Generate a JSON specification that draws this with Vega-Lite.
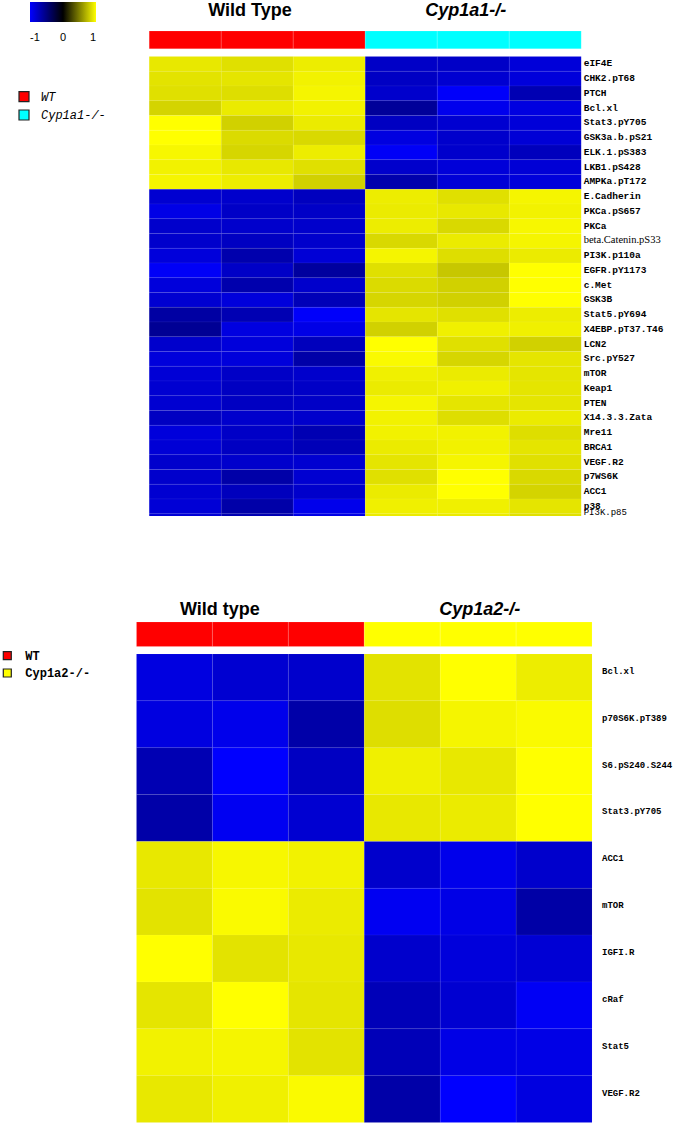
{
  "$schema": "https://vega.github.io/schema/vega-lite/v6.json",
  "background": "white",
  "padding": 0,
  "spacing": 0,
  "bounds": "flush",
  "config": {"view": {"stroke": null}},
  "resolve": {"scale": {"color": "independent", "fill": "independent"}, "legend": {"color": "independent", "fill": "independent"}},
  "datasets": {
    "topHead": [
      {"c": 0, "grp": "WT", "title": "Wild Type"}, {"c": 1, "grp": "WT", "title": "Wild Type"}, {"c": 2, "grp": "WT", "title": "Wild Type"},
      {"c": 3, "grp": "Cyp1a1-/-", "title": "Cyp1a1-/-"}, {"c": 4, "grp": "Cyp1a1-/-", "title": "Cyp1a1-/-"}, {"c": 5, "grp": "Cyp1a1-/-", "title": "Cyp1a1-/-"}
    ],
    "botHead": [
      {"c": 0, "grp": "WT", "title": "Wild type"}, {"c": 1, "grp": "WT", "title": "Wild type"}, {"c": 2, "grp": "WT", "title": "Wild type"},
      {"c": 3, "grp": "Cyp1a2-/-", "title": "Cyp1a2-/-"}, {"c": 4, "grp": "Cyp1a2-/-", "title": "Cyp1a2-/-"}, {"c": 5, "grp": "Cyp1a2-/-", "title": "Cyp1a2-/-"}
    ],
    "topCells": [
      {"g":"eIF4E","r":0,"c":0,"v":0.91},{"g":"eIF4E","r":0,"c":1,"v":0.88},{"g":"eIF4E","r":0,"c":2,"v":0.93},{"g":"eIF4E","r":0,"c":3,"v":-0.78},{"g":"eIF4E","r":0,"c":4,"v":-0.78},{"g":"eIF4E","r":0,"c":5,"v":-0.85},
      {"g":"CHK2.pT68","r":1,"c":0,"v":0.89},{"g":"CHK2.pT68","r":1,"c":1,"v":0.9},{"g":"CHK2.pT68","r":1,"c":2,"v":0.95},{"g":"CHK2.pT68","r":1,"c":3,"v":-0.77},{"g":"CHK2.pT68","r":1,"c":4,"v":-0.82},{"g":"CHK2.pT68","r":1,"c":5,"v":-0.86},
      {"g":"PTCH","r":2,"c":0,"v":0.88},{"g":"PTCH","r":2,"c":1,"v":0.87},{"g":"PTCH","r":2,"c":2,"v":0.96},{"g":"PTCH","r":2,"c":3,"v":-0.8},{"g":"PTCH","r":2,"c":4,"v":-0.98},{"g":"PTCH","r":2,"c":5,"v":-0.7},
      {"g":"Bcl.xl","r":3,"c":0,"v":0.83},{"g":"Bcl.xl","r":3,"c":1,"v":0.92},{"g":"Bcl.xl","r":3,"c":2,"v":0.95},{"g":"Bcl.xl","r":3,"c":3,"v":-0.6},{"g":"Bcl.xl","r":3,"c":4,"v":-0.93},{"g":"Bcl.xl","r":3,"c":5,"v":-0.88},
      {"g":"Stat3.pY705","r":4,"c":0,"v":1.0},{"g":"Stat3.pY705","r":4,"c":1,"v":0.82},{"g":"Stat3.pY705","r":4,"c":2,"v":0.92},{"g":"Stat3.pY705","r":4,"c":3,"v":-0.76},{"g":"Stat3.pY705","r":4,"c":4,"v":-0.82},{"g":"Stat3.pY705","r":4,"c":5,"v":-0.85},
      {"g":"GSK3a.b.pS21","r":5,"c":0,"v":1.0},{"g":"GSK3a.b.pS21","r":5,"c":1,"v":0.86},{"g":"GSK3a.b.pS21","r":5,"c":2,"v":0.85},{"g":"GSK3a.b.pS21","r":5,"c":3,"v":-0.88},{"g":"GSK3a.b.pS21","r":5,"c":4,"v":-0.8},{"g":"GSK3a.b.pS21","r":5,"c":5,"v":-0.84},
      {"g":"ELK.1.pS383","r":6,"c":0,"v":0.97},{"g":"ELK.1.pS383","r":6,"c":1,"v":0.84},{"g":"ELK.1.pS383","r":6,"c":2,"v":0.93},{"g":"ELK.1.pS383","r":6,"c":3,"v":-0.97},{"g":"ELK.1.pS383","r":6,"c":4,"v":-0.8},{"g":"ELK.1.pS383","r":6,"c":5,"v":-0.74},
      {"g":"LKB1.pS428","r":7,"c":0,"v":0.95},{"g":"LKB1.pS428","r":7,"c":1,"v":0.91},{"g":"LKB1.pS428","r":7,"c":2,"v":0.88},{"g":"LKB1.pS428","r":7,"c":3,"v":-0.8},{"g":"LKB1.pS428","r":7,"c":4,"v":-0.85},{"g":"LKB1.pS428","r":7,"c":5,"v":-0.84},
      {"g":"AMPKa.pT172","r":8,"c":0,"v":0.96},{"g":"AMPKa.pT172","r":8,"c":1,"v":0.93},{"g":"AMPKa.pT172","r":8,"c":2,"v":0.82},{"g":"AMPKa.pT172","r":8,"c":3,"v":-0.68},{"g":"AMPKa.pT172","r":8,"c":4,"v":-0.84},{"g":"AMPKa.pT172","r":8,"c":5,"v":-0.86},
      {"g":"E.Cadherin","r":9,"c":0,"v":-0.82},{"g":"E.Cadherin","r":9,"c":1,"v":-0.8},{"g":"E.Cadherin","r":9,"c":2,"v":-0.75},{"g":"E.Cadherin","r":9,"c":3,"v":0.93},{"g":"E.Cadherin","r":9,"c":4,"v":0.88},{"g":"E.Cadherin","r":9,"c":5,"v":0.96},
      {"g":"PKCa.pS657","r":10,"c":0,"v":-0.9},{"g":"PKCa.pS657","r":10,"c":1,"v":-0.78},{"g":"PKCa.pS657","r":10,"c":2,"v":-0.78},{"g":"PKCa.pS657","r":10,"c":3,"v":0.92},{"g":"PKCa.pS657","r":10,"c":4,"v":0.91},{"g":"PKCa.pS657","r":10,"c":5,"v":0.95},
      {"g":"PKCa","r":11,"c":0,"v":-0.8},{"g":"PKCa","r":11,"c":1,"v":-0.8},{"g":"PKCa","r":11,"c":2,"v":-0.8},{"g":"PKCa","r":11,"c":3,"v":0.93},{"g":"PKCa","r":11,"c":4,"v":0.85},{"g":"PKCa","r":11,"c":5,"v":0.97},
      {"g":"beta.Catenin.pS33","r":12,"c":0,"v":-0.8},{"g":"beta.Catenin.pS33","r":12,"c":1,"v":-0.76},{"g":"beta.Catenin.pS33","r":12,"c":2,"v":-0.8},{"g":"beta.Catenin.pS33","r":12,"c":3,"v":0.85},{"g":"beta.Catenin.pS33","r":12,"c":4,"v":0.92},{"g":"beta.Catenin.pS33","r":12,"c":5,"v":0.96},
      {"g":"PI3K.p110a","r":13,"c":0,"v":-0.86},{"g":"PI3K.p110a","r":13,"c":1,"v":-0.68},{"g":"PI3K.p110a","r":13,"c":2,"v":-0.84},{"g":"PI3K.p110a","r":13,"c":3,"v":0.96},{"g":"PI3K.p110a","r":13,"c":4,"v":0.87},{"g":"PI3K.p110a","r":13,"c":5,"v":0.92},
      {"g":"EGFR.pY1173","r":14,"c":0,"v":-0.97},{"g":"EGFR.pY1173","r":14,"c":1,"v":-0.78},{"g":"EGFR.pY1173","r":14,"c":2,"v":-0.62},{"g":"EGFR.pY1173","r":14,"c":3,"v":0.88},{"g":"EGFR.pY1173","r":14,"c":4,"v":0.78},{"g":"EGFR.pY1173","r":14,"c":5,"v":1.0},
      {"g":"c.Met","r":15,"c":0,"v":-0.86},{"g":"c.Met","r":15,"c":1,"v":-0.68},{"g":"c.Met","r":15,"c":2,"v":-0.8},{"g":"c.Met","r":15,"c":3,"v":0.86},{"g":"c.Met","r":15,"c":4,"v":0.82},{"g":"c.Met","r":15,"c":5,"v":1.0},
      {"g":"GSK3B","r":16,"c":0,"v":-0.82},{"g":"GSK3B","r":16,"c":1,"v":-0.86},{"g":"GSK3B","r":16,"c":2,"v":-0.72},{"g":"GSK3B","r":16,"c":3,"v":0.84},{"g":"GSK3B","r":16,"c":4,"v":0.82},{"g":"GSK3B","r":16,"c":5,"v":1.0},
      {"g":"Stat5.pY694","r":17,"c":0,"v":-0.64},{"g":"Stat5.pY694","r":17,"c":1,"v":-0.7},{"g":"Stat5.pY694","r":17,"c":2,"v":-0.98},{"g":"Stat5.pY694","r":17,"c":3,"v":0.9},{"g":"Stat5.pY694","r":17,"c":4,"v":0.88},{"g":"Stat5.pY694","r":17,"c":5,"v":0.93},
      {"g":"X4EBP.pT37.T46","r":18,"c":0,"v":-0.58},{"g":"X4EBP.pT37.T46","r":18,"c":1,"v":-0.88},{"g":"X4EBP.pT37.T46","r":18,"c":2,"v":-0.9},{"g":"X4EBP.pT37.T46","r":18,"c":3,"v":0.82},{"g":"X4EBP.pT37.T46","r":18,"c":4,"v":0.94},{"g":"X4EBP.pT37.T46","r":18,"c":5,"v":0.94},
      {"g":"LCN2","r":19,"c":0,"v":-0.8},{"g":"LCN2","r":19,"c":1,"v":-0.86},{"g":"LCN2","r":19,"c":2,"v":-0.74},{"g":"LCN2","r":19,"c":3,"v":1.0},{"g":"LCN2","r":19,"c":4,"v":0.88},{"g":"LCN2","r":19,"c":5,"v":0.82},
      {"g":"Src.pY527","r":20,"c":0,"v":-0.86},{"g":"Src.pY527","r":20,"c":1,"v":-0.86},{"g":"Src.pY527","r":20,"c":2,"v":-0.66},{"g":"Src.pY527","r":20,"c":3,"v":0.98},{"g":"Src.pY527","r":20,"c":4,"v":0.84},{"g":"Src.pY527","r":20,"c":5,"v":0.9},
      {"g":"mTOR","r":21,"c":0,"v":-0.84},{"g":"mTOR","r":21,"c":1,"v":-0.78},{"g":"mTOR","r":21,"c":2,"v":-0.8},{"g":"mTOR","r":21,"c":3,"v":0.94},{"g":"mTOR","r":21,"c":4,"v":0.92},{"g":"mTOR","r":21,"c":5,"v":0.9},
      {"g":"Keap1","r":22,"c":0,"v":-0.82},{"g":"Keap1","r":22,"c":1,"v":-0.76},{"g":"Keap1","r":22,"c":2,"v":-0.78},{"g":"Keap1","r":22,"c":3,"v":0.92},{"g":"Keap1","r":22,"c":4,"v":0.94},{"g":"Keap1","r":22,"c":5,"v":0.9},
      {"g":"PTEN","r":23,"c":0,"v":-0.82},{"g":"PTEN","r":23,"c":1,"v":-0.76},{"g":"PTEN","r":23,"c":2,"v":-0.78},{"g":"PTEN","r":23,"c":3,"v":0.96},{"g":"PTEN","r":23,"c":4,"v":0.9},{"g":"PTEN","r":23,"c":5,"v":0.9},
      {"g":"X14.3.3.Zata","r":24,"c":0,"v":-0.76},{"g":"X14.3.3.Zata","r":24,"c":1,"v":-0.8},{"g":"X14.3.3.Zata","r":24,"c":2,"v":-0.8},{"g":"X14.3.3.Zata","r":24,"c":3,"v":0.95},{"g":"X14.3.3.Zata","r":24,"c":4,"v":0.87},{"g":"X14.3.3.Zata","r":24,"c":5,"v":0.92},
      {"g":"Mre11","r":25,"c":0,"v":-0.86},{"g":"Mre11","r":25,"c":1,"v":-0.78},{"g":"Mre11","r":25,"c":2,"v":-0.7},{"g":"Mre11","r":25,"c":3,"v":0.95},{"g":"Mre11","r":25,"c":4,"v":0.95},{"g":"Mre11","r":25,"c":5,"v":0.87},
      {"g":"BRCA1","r":26,"c":0,"v":-0.84},{"g":"BRCA1","r":26,"c":1,"v":-0.76},{"g":"BRCA1","r":26,"c":2,"v":-0.72},{"g":"BRCA1","r":26,"c":3,"v":0.92},{"g":"BRCA1","r":26,"c":4,"v":0.95},{"g":"BRCA1","r":26,"c":5,"v":0.9},
      {"g":"VEGF.R2","r":27,"c":0,"v":-0.8},{"g":"VEGF.R2","r":27,"c":1,"v":-0.8},{"g":"VEGF.R2","r":27,"c":2,"v":-0.82},{"g":"VEGF.R2","r":27,"c":3,"v":0.9},{"g":"VEGF.R2","r":27,"c":4,"v":0.96},{"g":"VEGF.R2","r":27,"c":5,"v":0.88},
      {"g":"p7WS6K","r":28,"c":0,"v":-0.8},{"g":"p7WS6K","r":28,"c":1,"v":-0.66},{"g":"p7WS6K","r":28,"c":2,"v":-0.82},{"g":"p7WS6K","r":28,"c":3,"v":0.88},{"g":"p7WS6K","r":28,"c":4,"v":1.0},{"g":"p7WS6K","r":28,"c":5,"v":0.85},
      {"g":"ACC1","r":29,"c":0,"v":-0.82},{"g":"ACC1","r":29,"c":1,"v":-0.74},{"g":"ACC1","r":29,"c":2,"v":-0.8},{"g":"ACC1","r":29,"c":3,"v":0.92},{"g":"ACC1","r":29,"c":4,"v":1.0},{"g":"ACC1","r":29,"c":5,"v":0.83},
      {"g":"p38","r":30,"c":0,"v":-0.84},{"g":"p38","r":30,"c":1,"v":-0.66},{"g":"p38","r":30,"c":2,"v":-0.92},{"g":"p38","r":30,"c":3,"v":0.94},{"g":"p38","r":30,"c":4,"v":0.94},{"g":"p38","r":30,"c":5,"v":0.9},
      {"g":"PI3K.p85","r":31,"c":0,"v":-0.84},{"g":"PI3K.p85","r":31,"c":1,"v":-0.7},{"g":"PI3K.p85","r":31,"c":2,"v":-0.9},{"g":"PI3K.p85","r":31,"c":3,"v":0.92},{"g":"PI3K.p85","r":31,"c":4,"v":0.92},{"g":"PI3K.p85","r":31,"c":5,"v":0.88}
    ],
    "botCells": [
      {"g":"Bcl.xl","r":0,"c":0,"v":-0.88},{"g":"Bcl.xl","r":0,"c":1,"v":-0.82},{"g":"Bcl.xl","r":0,"c":2,"v":-0.8},{"g":"Bcl.xl","r":0,"c":3,"v":0.89},{"g":"Bcl.xl","r":0,"c":4,"v":1.0},{"g":"Bcl.xl","r":0,"c":5,"v":0.93},
      {"g":"p70S6K.pT389","r":1,"c":0,"v":-0.88},{"g":"p70S6K.pT389","r":1,"c":1,"v":-0.92},{"g":"p70S6K.pT389","r":1,"c":2,"v":-0.66},{"g":"p70S6K.pT389","r":1,"c":3,"v":0.87},{"g":"p70S6K.pT389","r":1,"c":4,"v":0.96},{"g":"p70S6K.pT389","r":1,"c":5,"v":0.98},
      {"g":"S6.pS240.S244","r":2,"c":0,"v":-0.7},{"g":"S6.pS240.S244","r":2,"c":1,"v":-1.0},{"g":"S6.pS240.S244","r":2,"c":2,"v":-0.76},{"g":"S6.pS240.S244","r":2,"c":3,"v":0.94},{"g":"S6.pS240.S244","r":2,"c":4,"v":0.91},{"g":"S6.pS240.S244","r":2,"c":5,"v":1.0},
      {"g":"Stat3.pY705","r":3,"c":0,"v":-0.66},{"g":"Stat3.pY705","r":3,"c":1,"v":-0.95},{"g":"Stat3.pY705","r":3,"c":2,"v":-0.82},{"g":"Stat3.pY705","r":3,"c":3,"v":0.91},{"g":"Stat3.pY705","r":3,"c":4,"v":0.92},{"g":"Stat3.pY705","r":3,"c":5,"v":1.0},
      {"g":"ACC1","r":4,"c":0,"v":0.91},{"g":"ACC1","r":4,"c":1,"v":0.97},{"g":"ACC1","r":4,"c":2,"v":0.95},{"g":"ACC1","r":4,"c":3,"v":-0.8},{"g":"ACC1","r":4,"c":4,"v":-0.92},{"g":"ACC1","r":4,"c":5,"v":-0.8},
      {"g":"mTOR","r":5,"c":0,"v":0.89},{"g":"mTOR","r":5,"c":1,"v":0.98},{"g":"mTOR","r":5,"c":2,"v":0.92},{"g":"mTOR","r":5,"c":3,"v":-0.95},{"g":"mTOR","r":5,"c":4,"v":-0.9},{"g":"mTOR","r":5,"c":5,"v":-0.65},
      {"g":"IGFI.R","r":6,"c":0,"v":1.0},{"g":"IGFI.R","r":6,"c":1,"v":0.89},{"g":"IGFI.R","r":6,"c":2,"v":0.91},{"g":"IGFI.R","r":6,"c":3,"v":-0.8},{"g":"IGFI.R","r":6,"c":4,"v":-0.86},{"g":"IGFI.R","r":6,"c":5,"v":-0.83},
      {"g":"cRaf","r":7,"c":0,"v":0.9},{"g":"cRaf","r":7,"c":1,"v":1.0},{"g":"cRaf","r":7,"c":2,"v":0.9},{"g":"cRaf","r":7,"c":3,"v":-0.72},{"g":"cRaf","r":7,"c":4,"v":-0.82},{"g":"cRaf","r":7,"c":5,"v":-0.96},
      {"g":"Stat5","r":8,"c":0,"v":0.95},{"g":"Stat5","r":8,"c":1,"v":0.96},{"g":"Stat5","r":8,"c":2,"v":0.89},{"g":"Stat5","r":8,"c":3,"v":-0.72},{"g":"Stat5","r":8,"c":4,"v":-0.9},{"g":"Stat5","r":8,"c":5,"v":-0.9},
      {"g":"VEGF.R2","r":9,"c":0,"v":0.91},{"g":"VEGF.R2","r":9,"c":1,"v":0.94},{"g":"VEGF.R2","r":9,"c":2,"v":0.98},{"g":"VEGF.R2","r":9,"c":3,"v":-0.66},{"g":"VEGF.R2","r":9,"c":4,"v":-1.0},{"g":"VEGF.R2","r":9,"c":5,"v":-0.88}
    ]
  },
  "vconcat": [
    {
      "width": 675,
      "height": 516,
      "layer": [
        {
          "data": {"name": "topHead"},
          "mark": {"type": "rect", "binSpacing": 0, "stroke": "#ffffff", "strokeWidth": 0.5, "strokeOpacity": 0.25},
          "encoding": {
            "x": {"field": "c", "type": "quantitative", "bin": {"step": 1, "extent": [0, 6], "nice": false}, "scale": {"domain": [-2.0653, 7.3097], "nice": false, "zero": false}, "axis": null},
            "y": {"datum": -1.6949, "type": "quantitative", "scale": {"domain": [-3.7966, 31.1865], "reverse": true, "nice": false, "zero": false}, "axis": null},
            "y2": {"datum": -0.4949},
            "fill": {"field": "grp", "type": "nominal", "scale": {"domain": ["WT", "Cyp1a1-/-"], "range": ["#ff0000", "#00ffff"]},
              "legend": {"orient": "none", "legendX": 18, "legendY": 90.7, "title": null, "padding": 0, "symbolType": "square", "symbolSize": 100, "symbolStrokeColor": "#222222", "symbolStrokeWidth": 1.2, "labelFont": "Liberation Mono", "labelFontSize": 12, "labelFontStyle": "italic", "labelColor": "#000000", "labelOffset": 11, "rowPadding": 2.3,
                "encode": {"symbols": {"update": {"stroke": {"value": "#222222"}, "strokeWidth": {"value": 1.2}, "size": {"value": 100}, "opacity": {"value": 1}}}}}}
          }
        },
        {
          "data": {"name": "topCells"},
          "mark": {"type": "rect", "clip": true, "binSpacing": 0, "stroke": "#ffffff", "strokeWidth": 0.4, "strokeOpacity": 0.12},
          "encoding": {
            "x": {"field": "c", "type": "quantitative", "bin": {"step": 1, "extent": [0, 6], "nice": false}},
            "y": {"field": "r", "type": "quantitative", "bin": {"step": 1, "extent": [0, 32], "nice": false}},
            "color": {"field": "v", "type": "quantitative", "scale": {"domain": [-1, 0, 1], "range": ["#0000ff", "#000000", "#ffff00"], "interpolate": "rgb"},
              "legend": {"orient": "none", "legendX": 30, "legendY": 2, "direction": "horizontal", "title": null, "padding": 0, "gradientLength": 66, "gradientThickness": 20, "gradientStrokeWidth": 0, "values": [-1, 0, 1], "labelFont": "Liberation Sans", "labelFontSize": 11, "labelColor": "#000000", "labelOffset": 10, "labelExpr": "replace(datum.label, '\u2212', '-')"}}
          }
        },
        {
          "data": {"name": "topCells"},
          "transform": [{"filter": "datum.c == 0 && datum.g != 'beta.Catenin.pS33' && datum.g != 'PI3K.p85'"}],
          "mark": {"type": "text", "align": "left", "baseline": "middle", "dx": 3, "dy": 7.4, "font": "Liberation Mono", "fontSize": 9.5, "fontWeight": "bold", "color": "#000000"},
          "encoding": {
            "x": {"datum": 6, "type": "quantitative"},
            "y": {"field": "r", "type": "quantitative"},
            "text": {"field": "g"}
          }
        },
        {
          "data": {"name": "topCells"},
          "transform": [{"filter": "datum.c == 0 && datum.g == 'beta.Catenin.pS33'"}],
          "mark": {"type": "text", "align": "left", "baseline": "middle", "dx": 3, "dy": 7.4, "font": "Liberation Serif", "fontSize": 10.5, "color": "#000000"},
          "encoding": {
            "x": {"datum": 6, "type": "quantitative"},
            "y": {"field": "r", "type": "quantitative"},
            "text": {"field": "g"}
          }
        },
        {
          "data": {"name": "topCells"},
          "transform": [{"filter": "datum.c == 0 && datum.g == 'PI3K.p85'"}],
          "mark": {"type": "text", "align": "left", "baseline": "middle", "dx": 3, "dy": -1.2, "font": "Liberation Mono", "fontSize": 9, "color": "#000000"},
          "encoding": {
            "x": {"datum": 6, "type": "quantitative"},
            "y": {"field": "r", "type": "quantitative"},
            "text": {"field": "g"}
          }
        },
        {
          "data": {"name": "topHead"},
          "transform": [{"filter": "datum.grp == 'WT'"}, {"aggregate": [{"op": "mean", "field": "c", "as": "mc"}], "groupby": ["title"]}],
          "mark": {"type": "text", "align": "center", "baseline": "alphabetic", "dx": 29.3, "font": "Liberation Sans", "fontSize": 18, "fontWeight": "bold", "color": "#000000"},
          "encoding": {
            "x": {"field": "mc", "type": "quantitative"},
            "y": {"datum": -2.7119, "type": "quantitative"},
            "text": {"field": "title"}
          }
        },
        {
          "data": {"name": "topHead"},
          "transform": [{"filter": "datum.grp != 'WT'"}, {"aggregate": [{"op": "mean", "field": "c", "as": "mc"}], "groupby": ["title"]}],
          "mark": {"type": "text", "align": "center", "baseline": "alphabetic", "dx": 29, "font": "Liberation Sans", "fontSize": 18, "fontWeight": "bold", "fontStyle": "italic", "color": "#000000"},
          "encoding": {
            "x": {"field": "mc", "type": "quantitative"},
            "y": {"datum": -2.7119, "type": "quantitative"},
            "text": {"field": "title"}
          }
        }
      ]
    },
    {
      "width": 675,
      "height": 608,
      "layer": [
        {
          "data": {"name": "botHead"},
          "mark": {"type": "rect", "binSpacing": 0, "stroke": "#ffffff", "strokeWidth": 0.5, "strokeOpacity": 0.25},
          "encoding": {
            "x": {"field": "c", "type": "quantitative", "bin": {"step": 1, "extent": [0, 6], "nice": false}, "scale": {"domain": [-1.7914, 7.0996], "nice": false, "zero": false}, "axis": null},
            "y": {"datum": -0.6724, "type": "quantitative", "scale": {"domain": [-2.9349, 10.0427], "reverse": true, "nice": false, "zero": false}, "axis": null},
            "y2": {"datum": -0.1494},
            "fill": {"field": "grp", "type": "nominal", "scale": {"domain": ["WT", "Cyp1a2-/-"], "range": ["#ff0000", "#ffff00"]},
              "legend": {"orient": "none", "legendX": 1.3, "legendY": 133.7, "title": null, "padding": 0, "symbolType": "square", "symbolSize": 64, "symbolStrokeColor": "#222222", "symbolStrokeWidth": 1.2, "labelFont": "Liberation Mono", "labelFontSize": 12, "labelFontWeight": "bold", "labelColor": "#000000", "labelOffset": 12, "rowPadding": 3.3,
                "encode": {"symbols": {"update": {"stroke": {"value": "#222222"}, "strokeWidth": {"value": 1.2}, "size": {"value": 64}, "opacity": {"value": 1}}}}}}
          }
        },
        {
          "data": {"name": "botCells"},
          "mark": {"type": "rect", "binSpacing": 0, "stroke": "#ffffff", "strokeWidth": 0.4, "strokeOpacity": 0.12},
          "encoding": {
            "x": {"field": "c", "type": "quantitative", "bin": {"step": 1, "extent": [0, 6], "nice": false}},
            "y": {"field": "r", "type": "quantitative", "bin": {"step": 1, "extent": [0, 10], "nice": false}},
            "color": {"field": "v", "type": "quantitative", "scale": {"domain": [-1, 0, 1], "range": ["#0000ff", "#000000", "#ffff00"], "interpolate": "rgb"}, "legend": null}
          }
        },
        {
          "data": {"name": "botCells"},
          "transform": [{"filter": "datum.c == 0"}],
          "mark": {"type": "text", "align": "left", "baseline": "middle", "dx": 10.5, "dy": 17.4, "font": "Liberation Mono", "fontSize": 9, "fontWeight": "bold", "color": "#000000"},
          "encoding": {
            "x": {"datum": 6, "type": "quantitative"},
            "y": {"field": "r", "type": "quantitative"},
            "text": {"field": "g"}
          }
        },
        {
          "data": {"name": "botHead"},
          "transform": [{"filter": "datum.grp == 'WT'"}, {"aggregate": [{"op": "mean", "field": "c", "as": "mc"}], "groupby": ["title"]}],
          "mark": {"type": "text", "align": "center", "baseline": "alphabetic", "dx": 8, "font": "Liberation Sans", "fontSize": 18, "fontWeight": "bold", "color": "#000000"},
          "encoding": {
            "x": {"field": "mc", "type": "quantitative"},
            "y": {"datum": -0.8218, "type": "quantitative"},
            "text": {"field": "title"}
          }
        },
        {
          "data": {"name": "botHead"},
          "transform": [{"filter": "datum.grp != 'WT'"}, {"aggregate": [{"op": "mean", "field": "c", "as": "mc"}], "groupby": ["title"]}],
          "mark": {"type": "text", "align": "center", "baseline": "alphabetic", "dx": 40, "font": "Liberation Sans", "fontSize": 18, "fontWeight": "bold", "fontStyle": "italic", "color": "#000000"},
          "encoding": {
            "x": {"field": "mc", "type": "quantitative"},
            "y": {"datum": -0.8218, "type": "quantitative"},
            "text": {"field": "title"}
          }
        }
      ]
    }
  ]
}
